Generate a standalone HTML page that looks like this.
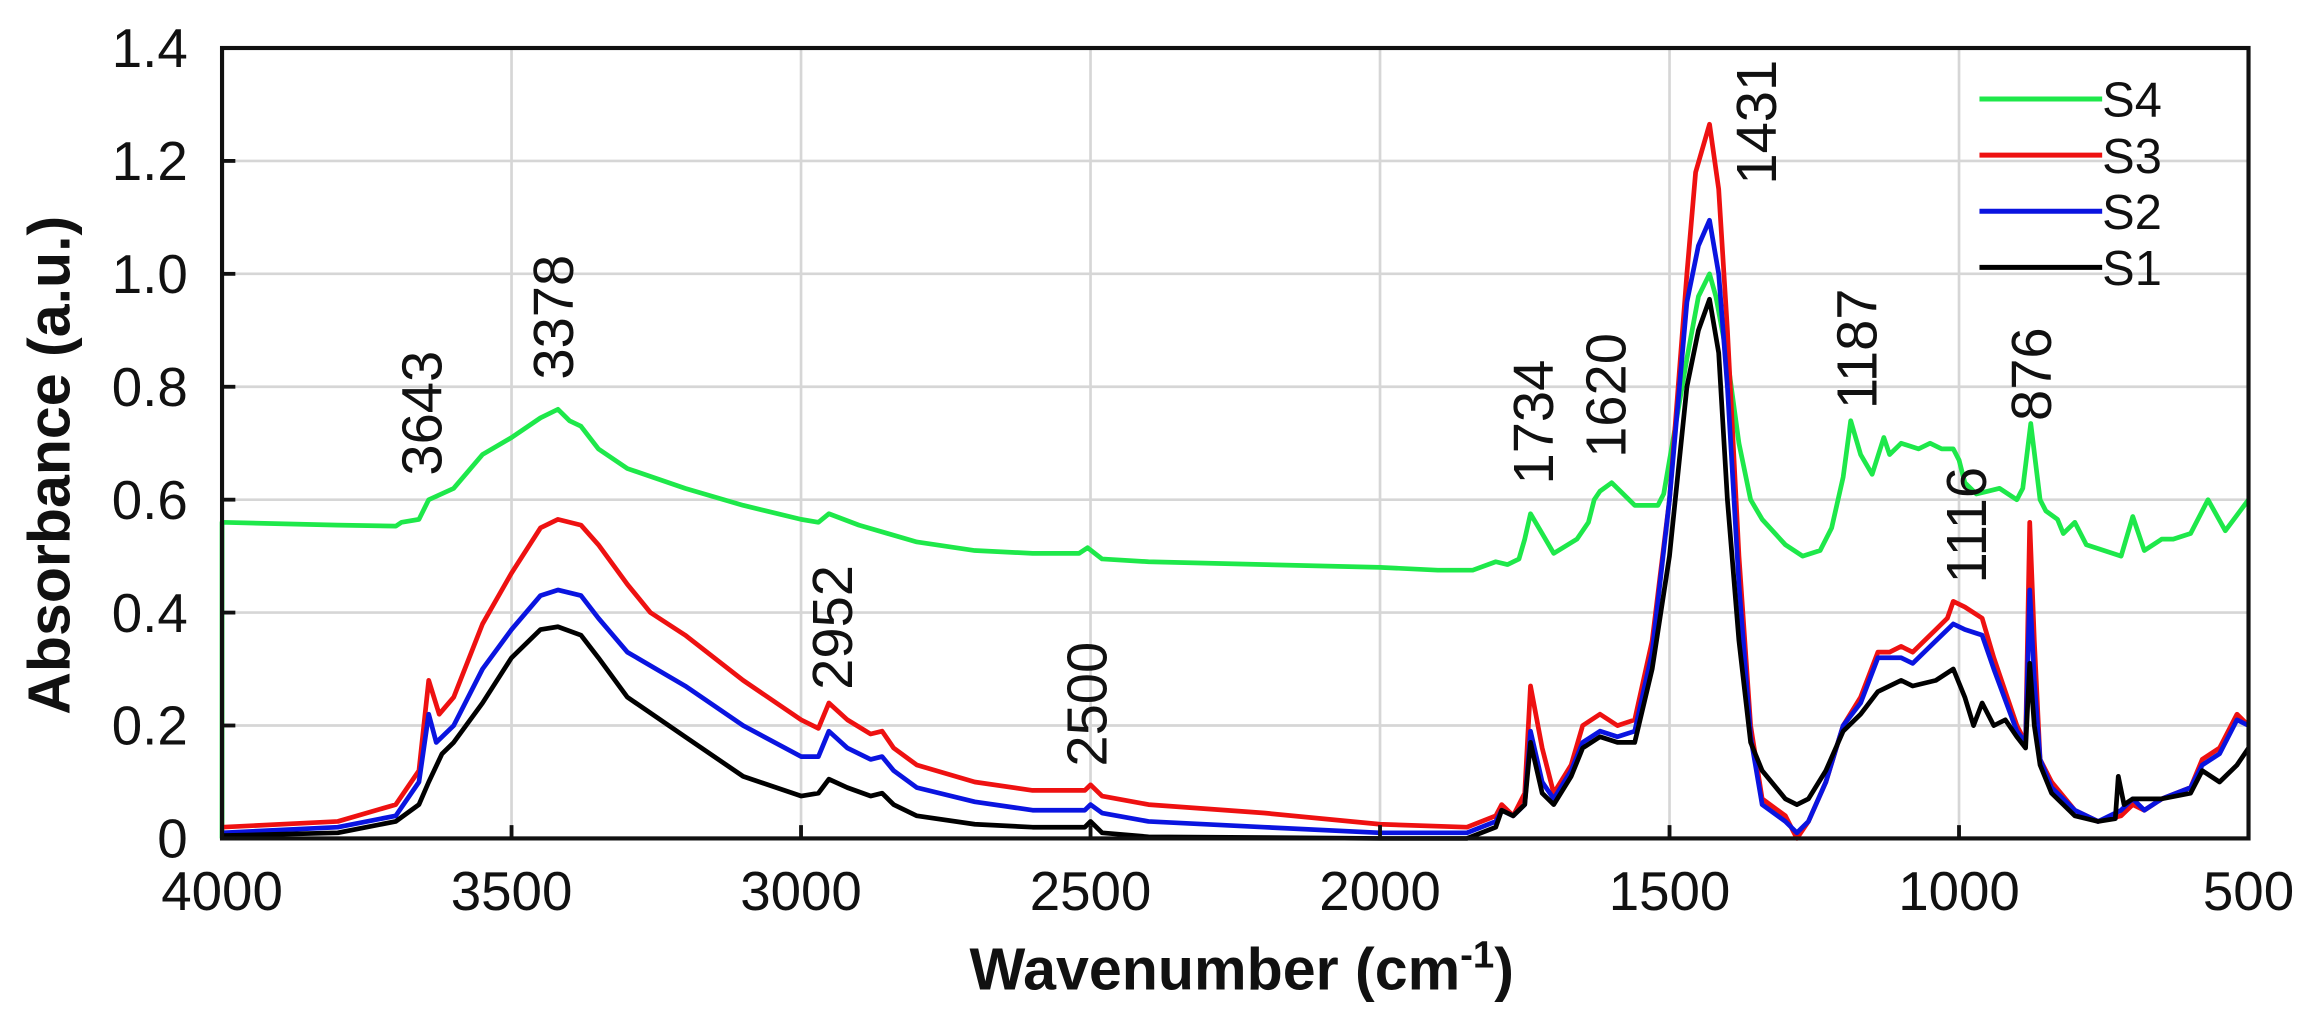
<!DOCTYPE html>
<html><head><meta charset="utf-8"><style>
html,body{margin:0;padding:0;background:#fff;}
svg{display:block;}
text{font-family:"Liberation Sans",Arial,sans-serif;fill:#111;}
</style></head><body>
<svg id="c" width="2318" height="1034" viewBox="0 0 1568 700" preserveAspectRatio="none" xmlns="http://www.w3.org/2000/svg">
<rect x="0" y="0" width="1568" height="700" fill="#fff"/>
<g id="grid" stroke="#d6d6d6" stroke-width="1.8"></g>
<g id="series" fill="none" stroke-width="3.2" stroke-linejoin="round"></g>
<g id="axes"></g>
<g font-size="38" id="ann"></g>
<g id="legend" font-size="33">
<line x1="1339" y1="67" x2="1422" y2="67" stroke="#1ee84a" stroke-width="3.4"/>
<line x1="1339" y1="105" x2="1422" y2="105" stroke="#ee1111" stroke-width="3.4"/>
<line x1="1339" y1="143" x2="1422" y2="143" stroke="#0a14e0" stroke-width="3.4"/>
<line x1="1339" y1="181" x2="1422" y2="181" stroke="#000" stroke-width="3.4"/>
<text x="1422" y="79">S4</text><text x="1422" y="117">S3</text><text x="1422" y="155">S2</text><text x="1422" y="193">S1</text>
</g>
<text x="840" y="670" font-size="40" font-weight="bold" text-anchor="middle">Wavenumber (cm<tspan dy="-15" font-size="26">-1</tspan><tspan dy="15">)</tspan></text>
<text transform="translate(47,315) rotate(-90)" font-size="40" font-weight="bold" text-anchor="middle">Absorbance (a.u.)</text>
</svg>
<script>
var L=150.2,R=1521,T=32.5,B=567.6;
function X(w){return L+(4000-w)*(R-L)/3500;}
function Y(a){return B-a*(B-T)/1.4;}
var ns="http://www.w3.org/2000/svg";
function el(p,n,at,txt){var e=document.createElementNS(ns,n);for(var k in at)e.setAttribute(k,at[k]);if(txt!==undefined)e.textContent=txt;document.getElementById(p).appendChild(e);return e;}
for(var i=1;i<7;i++){el('grid','line',{x1:L,x2:R,y1:Y(i*0.2),y2:Y(i*0.2)});}
for(var w=3500;w>=1000;w-=500){el('grid','line',{x1:X(w),x2:X(w),y1:T,y2:B});}
el('axes','rect',{x:L,y:T,width:R-L,height:B-T,fill:'none',stroke:'#111','stroke-width':2.8});
var yl=['0','0.2','0.4','0.6','0.8','1.0','1.2','1.4'];
for(var i=0;i<8;i++){el('axes','line',{x1:L,x2:L+9,y1:Y(i*0.2),y2:Y(i*0.2),stroke:'#111','stroke-width':2.6});
el('axes','text',{x:127,y:Y(i*0.2)+13,'font-size':37,'text-anchor':'end'},yl[i]);}
for(var w=4000;w>=500;w-=500){el('axes','line',{x1:X(w),x2:X(w),y1:B,y2:B-9,stroke:'#111','stroke-width':2.6});
el('axes','text',{x:X(w),y:616,'font-size':37,'text-anchor':'middle'},String(w));}
var S4=[[4000,0],[4000,0.56],[3800,0.555],[3700,0.553],[3690,0.56],[3660,0.565],[3643,0.6],[3600,0.62],[3550,0.68],[3500,0.71],[3450,0.745],[3420,0.76],[3400,0.74],[3380,0.73],[3350,0.69],[3300,0.655],[3200,0.62],[3100,0.59],[3000,0.565],[2970,0.56],[2952,0.575],[2900,0.555],[2850,0.54],[2800,0.525],[2700,0.51],[2600,0.505],[2520,0.505],[2505,0.515],[2480,0.495],[2400,0.49],[2000,0.48],[1900,0.475],[1840,0.475],[1800,0.49],[1780,0.485],[1760,0.495],[1750,0.53],[1740,0.575],[1720,0.54],[1700,0.505],[1660,0.53],[1640,0.56],[1630,0.6],[1620,0.615],[1600,0.63],[1580,0.61],[1560,0.59],[1520,0.59],[1510,0.61],[1490,0.73],[1470,0.85],[1450,0.96],[1431,1.0],[1420,0.96],[1400,0.85],[1380,0.7],[1360,0.6],[1340,0.565],[1300,0.52],[1270,0.5],[1240,0.51],[1220,0.55],[1200,0.64],[1187,0.74],[1170,0.68],[1150,0.645],[1130,0.71],[1120,0.68],[1100,0.70],[1070,0.69],[1050,0.70],[1030,0.69],[1010,0.69],[1000,0.67],[990,0.63],[970,0.61],[950,0.615],[930,0.62],[900,0.60],[890,0.62],[876,0.735],[860,0.6],[850,0.58],[830,0.565],[820,0.54],[800,0.56],[780,0.52],[720,0.5],[700,0.57],[680,0.51],[650,0.53],[630,0.53],[600,0.54],[570,0.6],[540,0.545],[500,0.6]];
var S3=[[4000,0.02],[3800,0.03],[3700,0.06],[3660,0.12],[3643,0.28],[3625,0.22],[3600,0.25],[3550,0.38],[3500,0.47],[3450,0.55],[3420,0.565],[3380,0.555],[3350,0.52],[3300,0.45],[3260,0.40],[3200,0.36],[3100,0.28],[3000,0.21],[2970,0.195],[2952,0.24],[2920,0.21],[2880,0.185],[2860,0.19],[2840,0.16],[2800,0.13],[2700,0.10],[2600,0.085],[2510,0.085],[2500,0.095],[2480,0.075],[2400,0.06],[2200,0.045],[2000,0.025],[1850,0.02],[1800,0.04],[1790,0.06],[1770,0.04],[1750,0.08],[1740,0.27],[1720,0.16],[1700,0.08],[1670,0.13],[1650,0.20],[1620,0.22],[1590,0.2],[1560,0.21],[1530,0.35],[1500,0.6],[1470,1.0],[1455,1.18],[1431,1.265],[1415,1.15],[1400,0.9],[1380,0.5],[1360,0.2],[1340,0.07],[1300,0.04],[1280,0.0],[1260,0.03],[1230,0.1],[1200,0.2],[1170,0.25],[1140,0.33],[1120,0.33],[1100,0.34],[1080,0.33],[1040,0.37],[1020,0.39],[1010,0.42],[990,0.41],[960,0.39],[940,0.32],[900,0.2],[885,0.17],[878,0.56],[870,0.35],[860,0.14],[840,0.1],[800,0.05],[760,0.03],[720,0.04],[700,0.06],[680,0.05],[650,0.07],[600,0.09],[580,0.14],[550,0.16],[520,0.22],[500,0.2]];
var S2=[[4000,0.01],[3800,0.02],[3700,0.04],[3660,0.1],[3643,0.22],[3630,0.17],[3600,0.2],[3550,0.3],[3500,0.37],[3450,0.43],[3420,0.44],[3380,0.43],[3350,0.39],[3300,0.33],[3200,0.27],[3100,0.2],[3000,0.145],[2970,0.145],[2952,0.19],[2920,0.16],[2880,0.14],[2860,0.145],[2840,0.12],[2800,0.09],[2700,0.065],[2600,0.05],[2510,0.05],[2500,0.06],[2480,0.045],[2400,0.03],[2200,0.02],[2000,0.01],[1850,0.01],[1800,0.03],[1790,0.05],[1770,0.04],[1750,0.06],[1740,0.19],[1720,0.1],[1700,0.07],[1670,0.12],[1650,0.17],[1620,0.19],[1590,0.18],[1560,0.19],[1530,0.33],[1500,0.6],[1470,0.95],[1450,1.05],[1431,1.095],[1415,1.0],[1400,0.8],[1380,0.45],[1360,0.18],[1340,0.06],[1300,0.03],[1280,0.01],[1260,0.03],[1230,0.1],[1200,0.2],[1170,0.24],[1140,0.32],[1100,0.32],[1080,0.31],[1040,0.35],[1010,0.38],[990,0.37],[960,0.36],[940,0.3],[900,0.19],[885,0.17],[878,0.44],[870,0.28],[860,0.14],[840,0.09],[800,0.05],[760,0.03],[720,0.05],[700,0.07],[680,0.05],[650,0.07],[600,0.09],[580,0.13],[550,0.15],[520,0.21],[500,0.2]];
var S1=[[4000,0.005],[3800,0.01],[3700,0.03],[3660,0.06],[3643,0.1],[3620,0.15],[3600,0.17],[3550,0.24],[3500,0.32],[3450,0.37],[3420,0.375],[3380,0.36],[3350,0.32],[3300,0.25],[3200,0.18],[3100,0.11],[3000,0.075],[2970,0.08],[2952,0.105],[2920,0.09],[2880,0.075],[2860,0.08],[2840,0.06],[2800,0.04],[2700,0.025],[2600,0.02],[2510,0.02],[2500,0.03],[2480,0.01],[2400,0.003],[2000,0.0],[1850,0.0],[1800,0.02],[1790,0.05],[1770,0.04],[1750,0.06],[1740,0.17],[1720,0.08],[1700,0.06],[1670,0.11],[1650,0.16],[1620,0.18],[1590,0.17],[1560,0.17],[1530,0.3],[1500,0.5],[1470,0.8],[1450,0.9],[1431,0.955],[1415,0.86],[1400,0.6],[1380,0.35],[1360,0.17],[1340,0.12],[1300,0.07],[1280,0.06],[1260,0.07],[1230,0.12],[1200,0.19],[1170,0.22],[1140,0.26],[1100,0.28],[1080,0.27],[1040,0.28],[1010,0.3],[990,0.25],[975,0.2],[960,0.24],[940,0.2],[920,0.21],[900,0.18],[885,0.16],[878,0.31],[870,0.2],[860,0.13],[840,0.08],[800,0.04],[760,0.03],[730,0.035],[725,0.11],[715,0.06],[700,0.07],[650,0.07],[600,0.08],[580,0.12],[550,0.1],[520,0.13],[500,0.16]];
function P(d){return d.map(function(p,i){return (i?'L':'M')+X(p[0]).toFixed(1)+' '+Y(p[1]).toFixed(1);}).join(' ');}
el('series','path',{d:P(S4),stroke:'#1ee84a'});
el('series','path',{d:P(S3),stroke:'#ee1111'});
el('series','path',{d:P(S2),stroke:'#0a14e0'});
el('series','path',{d:P(S1),stroke:'#000'});
var A=[['3643',285,322],['3378',374,257],['2952',563,467],['2500',735,519],['1734',1037,328],['1620',1086,310],['1431',1188,125],['1187',1256,277],['1116',1330,395],['876',1374,285]];
A.forEach(function(a){el('ann','text',{transform:'translate('+(a[1]+13.5)+','+a[2]+') rotate(-90)'},a[0]);});
</script>
</body></html>
